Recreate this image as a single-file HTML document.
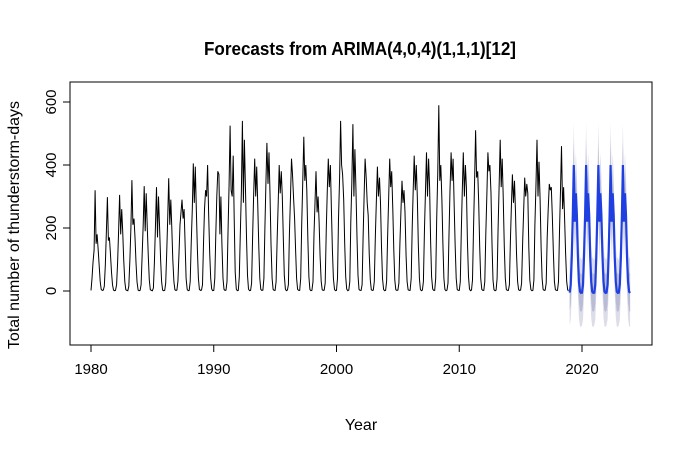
<!DOCTYPE html>
<html><head><meta charset="utf-8"><style>
html,body{margin:0;padding:0;background:#fff;}
svg{display:block;font-family:"Liberation Sans",Arial,sans-serif;}
</style></head><body>
<svg id="chart" width="687" height="461" viewBox="0 0 687 461"></svg>
<script>
// ---- data ----
const startYear = 1980;
const observed = [
[2,40,90,130,320,150,180,130,80,30,5,2],
[3,15,80,180,298,160,170,120,60,20,3,1],
[2,20,90,190,305,180,260,190,100,30,4,2],
[1,15,100,200,352,210,230,170,90,30,3,1],
[2,20,110,210,333,190,310,200,110,35,4,2],
[1,10,90,200,330,170,300,210,100,30,3,1],
[2,25,120,230,358,210,290,200,100,30,4,2],
[3,30,120,210,250,290,230,260,150,40,5,1],
[2,30,150,260,405,280,395,250,130,40,5,2],
[3,20,150,260,320,300,400,250,120,40,6,1],
[2,40,180,300,380,370,180,300,150,40,5,2],
[3,30,200,340,525,320,300,430,230,60,6,1],
[2,45,180,320,540,280,480,320,170,50,6,1],
[2,25,170,300,420,300,395,280,140,40,5,2],
[3,40,200,340,470,340,440,310,150,40,5,2],
[2,30,170,280,400,310,380,300,170,50,6,1],
[3,20,180,300,420,370,300,230,130,40,5,2],
[2,40,210,340,490,350,400,320,160,45,5,1],
[2,30,180,280,380,250,300,220,110,30,4,2],
[3,25,200,320,420,330,400,260,130,40,5,1],
[2,40,230,360,540,400,370,290,150,45,6,1],
[3,30,220,340,530,300,450,330,170,50,5,2],
[2,20,170,300,420,360,280,240,120,35,4,2],
[3,30,180,290,395,300,360,280,140,40,5,1],
[2,30,170,300,420,330,380,260,130,35,4,2],
[3,25,150,250,350,280,320,250,110,30,4,2],
[2,40,200,320,430,320,400,300,150,40,5,1],
[3,30,200,320,440,300,420,330,160,45,6,2],
[2,40,230,380,590,350,400,290,150,40,5,1],
[3,25,180,320,440,350,420,280,140,40,5,2],
[2,30,190,320,440,300,400,330,160,45,6,1],
[3,35,210,350,510,360,380,280,140,40,5,2],
[2,30,180,310,440,380,400,310,150,35,4,1],
[3,40,200,330,480,330,420,300,140,40,5,2],
[2,20,160,270,370,280,350,250,120,30,4,2],
[3,25,160,260,360,300,340,310,140,35,4,1],
[2,35,210,340,480,300,410,290,140,40,5,2],
[3,25,170,260,340,320,330,240,120,30,4,2],
[2,30,190,320,460,260,330,230,120,30,3,2]
];
const forecastStart = 2019;
const forecastMean = [
[-5,20,110,240,400,220,310,240,110,30,-2,-6],
[-5,20,110,240,400,220,310,240,110,30,-2,-6],
[-5,20,110,240,400,220,310,240,110,30,-2,-6],
[-5,20,110,240,400,220,310,240,110,30,-2,-6],
[-5,20,110,240,400,220,310,240,110,30,-2,-6]
];
const forecastSE = [45,48,52,55,58,58,56,55,52,50,48,47];
const xTicks = [1980,1990,2000,2010,2020];
const yTicks = [0,200,400,600];

// ---- scales ----
const X0=70,X1=652,Y0=82,Y1=345;
const xs = t => 91 + (t-1980)*(582-91)/40;
const ys = v => 291 - v*(291-102)/600;
const NS="http://www.w3.org/2000/svg";
const svg=document.getElementById('chart');
function mk(tag,attrs,parent){const e=document.createElementNS(NS,tag);for(const k in attrs)e.setAttribute(k,attrs[k]);(parent||svg).appendChild(e);return e;}

// title
let t=mk('text',{x:360,y:55,'text-anchor':'middle','font-size':18,'font-weight':'bold',fill:'#000',textLength:312,lengthAdjust:'spacingAndGlyphs'});


t.textContent='Forecasts from ARIMA(4,0,4)(1,1,1)[12]';

// forecast bands
const fm=[],se=[];
forecastMean.forEach(r=>r.forEach(v=>fm.push(v)));
for(let i=0;i<fm.length;i++)se.push(forecastSE[i%12]);
function band(mult,color,name){
  let top='',bot='';
  for(let i=0;i<fm.length;i++){const x=xs(forecastStart+i/12);top+=(i?'L':'M')+x.toFixed(1)+','+ys(fm[i]+mult*se[i]).toFixed(1);}
  for(let i=fm.length-1;i>=0;i--){const x=xs(forecastStart+i/12);bot+='L'+x.toFixed(1)+','+ys(fm[i]-mult*se[i]).toFixed(1);}
  const p=mk('path',{d:top+bot+'Z',fill:color,stroke:'none'});
  
  
}
band(2.3,'#dcdde8','interval-95');
band(1.28,'#b9bcd4','interval-80');

// observed line
const obs=[];observed.forEach(r=>r.forEach(v=>obs.push(v)));
let d='';
obs.forEach((v,i)=>{d+=(i?'L':'M')+xs(startYear+i/12).toFixed(1)+','+ys(v).toFixed(1);});
let ol=mk('path',{d:d,fill:'none',stroke:'#000','stroke-width':1});



// forecast line
d='';
fm.forEach((v,i)=>{d+=(i?'L':'M')+xs(forecastStart+i/12).toFixed(1)+','+ys(v).toFixed(1);});
let fl=mk('path',{d:d,fill:'none',stroke:'#1f3fe0','stroke-width':2.2});



// plot box
let bx=mk('rect',{x:X0,y:Y0,width:X1-X0,height:Y1-Y0,fill:'none',stroke:'#000','stroke-width':1});



// x axis
xTicks.forEach(v=>{
  const x=xs(v);
  let l=mk('line',{x1:x,x2:x,y1:Y1,y2:Y1+7,stroke:'#000'});
  
  
  let tx=mk('text',{x:x,y:Y1+29,'text-anchor':'middle','font-size':15});
  
  
  tx.textContent=v;
});
let xa=mk('line',{x1:xs(xTicks[0]),x2:xs(xTicks[xTicks.length-1]),y1:Y1,y2:Y1,stroke:'#000'});



// y axis
yTicks.forEach(v=>{
  const y=ys(v);
  let l=mk('line',{x1:X0-7,x2:X0,y1:y,y2:y,stroke:'#000'});
  
  
  let tx=mk('text',{x:0,y:0,'text-anchor':'middle','font-size':15,transform:`translate(${X0-14},${y}) rotate(-90)`});
  
  
  tx.textContent=v;
});

// axis titles
let xt=mk('text',{x:361,y:430,'text-anchor':'middle','font-size':16});


xt.textContent='Year';
let yt=mk('text',{x:0,y:0,'text-anchor':'middle','font-size':16,transform:'translate(19,225) rotate(-90)'});


yt.textContent='Total number of thunderstorm-days';
</script>
</body></html>
